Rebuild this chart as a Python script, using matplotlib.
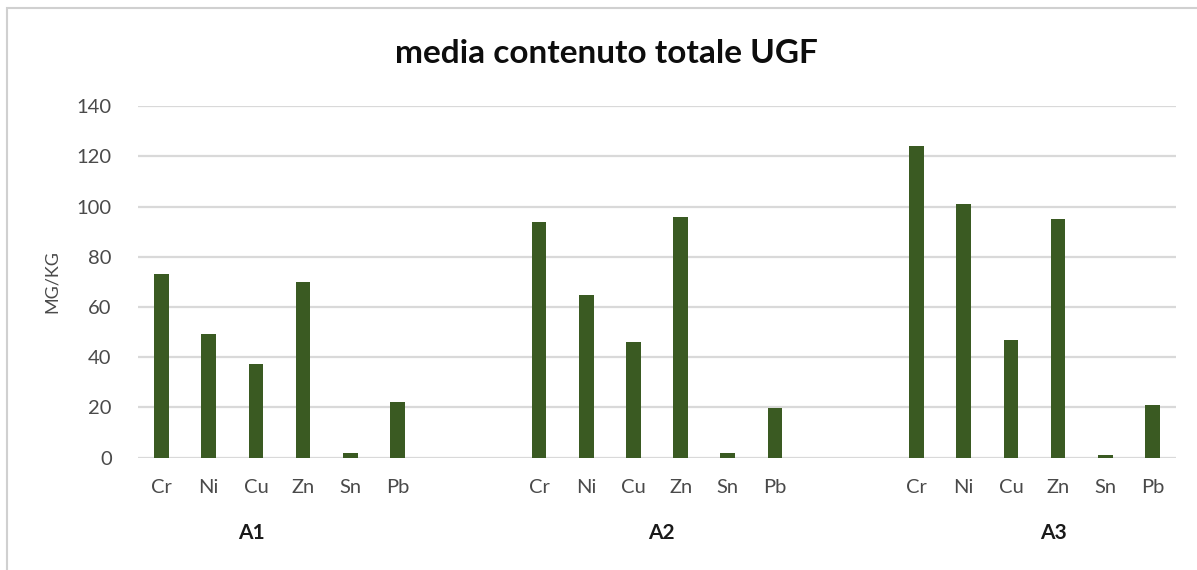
import numpy as np
from matplotlib import pyplot as plt
from matplotlib.patches import Rectangle
from matplotlib.transforms import blended_transform_factory

plt.rcParams['font.family'] = ['Lato', 'DejaVu Sans']

metalli = ['Cr', 'Ni', 'Cu', 'Zn', 'Sn', 'Pb']
gruppi = ['A1', 'A2', 'A3']
valori_A1 = [73.1, 49.1, 37.2, 69.8, 1.7, 22.0]
valori_A2 = [93.7, 64.8, 46.2, 95.8, 1.7, 19.7]
valori_A3 = [124.2, 101.1, 46.7, 94.9, 1.1, 20.8]
# posizione delle etichette di gruppo (in unità di categoria)
pos_gruppi = [1.9, 10.6, 18.9]

verde = '#3a5a22'
grigio_testo = '#4a4a4a'

fig = plt.figure(figsize=(11.97, 5.70), dpi=100)
ax = fig.add_axes([0.1153, 0.197, 0.8672, 0.617])

passo = len(metalli) + 2  # due categorie vuote fra i gruppi
x_tick = []
etichette = []
for g, valori in enumerate([valori_A1, valori_A2, valori_A3]):
    x = np.arange(len(metalli)) + g * passo
    ax.bar(x, valori, width=0.31, color=verde, zorder=3)
    x_tick.extend(x)
    etichette.extend(metalli)

ax.set_xlim(-0.5, 2 * passo + len(metalli) - 0.5)
ax.set_ylim(0, 140)
ax.set_yticks(range(0, 141, 20))
ax.set_xticks(x_tick)
ax.set_xticklabels(etichette)
ax.tick_params(axis='both', length=0, labelsize=14.5, labelcolor=grigio_testo)
ax.tick_params(axis='x', pad=15)
ax.tick_params(axis='y', pad=19)
ax.grid(axis='y', color='#d9d9d9', linewidth=1.6, zorder=0)
for s in ax.spines.values():
    s.set_visible(False)

ax.set_ylabel('MG/KG', fontsize=13, color=grigio_testo, labelpad=12)

trans = blended_transform_factory(ax.transData, ax.transAxes)
for nome, xg in zip(gruppi, pos_gruppi):
    ax.text(xg, -0.213, nome, transform=trans, ha='center', va='center',
            fontsize=15, fontweight='bold', color='#1a1a1a')

fig.text(0.5065, 0.907, 'media contenuto totale UGF', ha='center', va='center',
         fontsize=24, fontweight='bold', color='#0d0d0d')

# cornice del grafico
fig.patches.append(Rectangle((0.006, -0.1), 1.1, 1.086, transform=fig.transFigure,
                             fill=False, edgecolor='#d0d0d0', linewidth=1.5))

fig.savefig('out.png', dpi=100)
